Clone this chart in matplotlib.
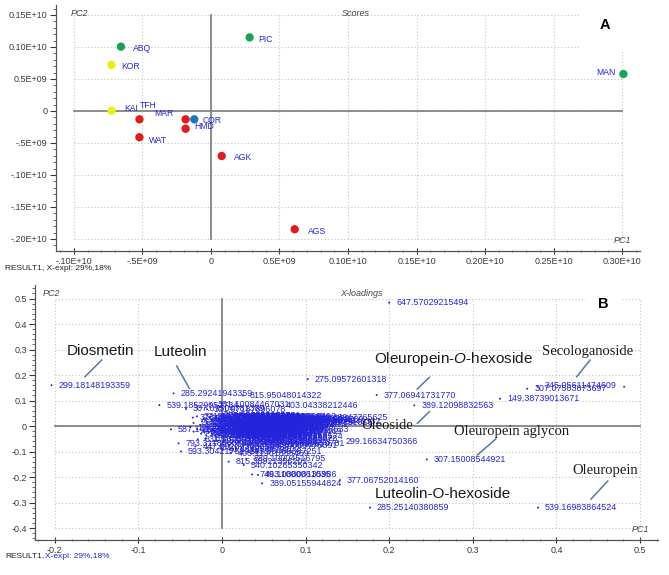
import matplotlib
matplotlib.use("Agg")
import matplotlib.pyplot as plt
from matplotlib.ticker import AutoMinorLocator, FixedLocator

plt.rcParams['font.family'] = ['Liberation Sans', 'DejaVu Sans']
plt.rcParams['mathtext.fontset'] = 'custom'
plt.rcParams['mathtext.rm'] = 'Liberation Sans'
plt.rcParams['mathtext.it'] = 'Liberation Sans:italic'

# ---- panel A : scores ----
sample_names = ["ABQ", "PIC", "KOR", "KAI", "TFH", "MAR", "COR", "HMD", "WAT", "AGK", "AGS", "MAN"]
score_pc1 = [-0.657e9, 0.282e9, -0.726e9, -0.726e9, -0.522e9, -0.185e9, -0.122e9, -0.185e9,
             -0.522e9, 0.078e9, 0.611e9, 3.01e9]
score_pc2 = [1.005e9, 1.15e9, 0.72e9, 0.005e9, -0.13e9, -0.13e9, -0.13e9, -0.277e9,
             -0.41e9, -0.703e9, -1.848e9, 0.578e9]
sample_group = ["green", "green", "yellow", "yellow", "red", "red", "blue", "red",
                "red", "red", "red", "green"]

score_xticks = [-1.0e9, -0.5e9, 0, 0.5e9, 1.0e9, 1.5e9, 2.0e9, 2.5e9, 3.0e9]
score_xlabels = ["-.10E+10", "-.5E+09", "0", "0.5E+09", "0.10E+10", "0.15E+10",
                 "0.20E+10", "0.25E+10", "0.30E+10"]
score_yticks = [-2.0e9, -1.5e9, -1.0e9, -0.5e9, 0, 0.5e9, 1.0e9, 1.5e9]
score_ylabels = ["-.20E+10", "-.15E+10", "-.10E+10", "-.5E+09", "0", "0.5E+09",
                 "0.10E+10", "0.15E+10"]

# ---- panel B : loadings ----
mz_labels = [
    "647.57029215494", "299.18148193359", "285.29241943359", "815.95048014322",
    "539.18529052734", "361.10084467031", "307.07504781389", "301.07187896078",
    "403.04338212446", "275.09572601318", "377.06941731770", "389.12098832563",
    "149.38739013671", "307.07503873697", "345.05611474609", "",
    "688.48947765625", "299.16634750366", "307.15008544921", "377.06752014160",
    "285.25140380859", "539.16983864524", "389.05155944824", "593.30421752929",
    "843.85463387251", "793.31185607910", "815.38921356201", "889.10004516795",
    "540.10265350342", "749.11000061035", "463.08808135986", "587.14132690430",
    "373.11437988281", "831.16259765625", "463.09873962402",
    "371.09768676758", "361.12899780273", "355.10247802734", "343.12002563477",
    "329.06555175781", "325.09478759766", "319.04620361328", "315.07269287109",
    "311.11340332031", "305.06723022461", "303.05102539063", "297.09860229492",
    "293.12414550781", "287.05566406250", "283.09429931641", "277.03530883789",
    "271.06060791016", "301.03498840332", "265.14752197266", "263.12802124023",
    "255.06622314453", "253.09199523926", "247.05943298340", "241.07075500488",
    "239.05598449707", "235.08171081543", "225.07666015625", "223.06060791016",
    "221.08187866211", "215.09136962891", "209.08078002930", "205.07206726074",
    "197.08093261719", "195.06571960449", "193.05001831055", "191.05618286133",
    "187.09700012207", "183.06541442871", "179.03446960449", "175.02453613281",
    "173.04580688477", "169.01414489746", "165.05522155762", "163.03958129883",
    "161.04524230957", "155.03446960449", "153.01907348633", "151.00357055664",
    "145.05000305176", "137.02426147461", "135.04515075684", "133.01419067383",
    "131.07167053223", "129.05520629883", "127.03938293457", "125.02416992188",
    "123.04504394531", "121.02960205078", "119.03495788574", "117.01920318604",
    "115.00386810303", "113.02465820313", "111.00898742676", "623.18096923828",
    "609.14562988281", "577.13507080078", "563.14019775391", "555.15539550781",
    "447.09277343750", "431.09790039063", "417.11856079102", "405.11901855469",
    "481.15078735352", "479.11932373047", "477.10327148438", "473.07476806641",
    "467.12005615234", "465.10284423828", "461.10900878906", "459.09393310547",
    "451.12399291992", "449.10858154297", "445.11401367188", "441.12847900391",
    "437.14260864258", "435.12881469727", "429.08248901367", "425.13369750977",
    "423.10934448242", "421.09362792969", "415.10400390625", "413.08856201172",
    "409.09283447266", "407.13214111328", "401.12225341797", "399.10656738281",
    "395.11181640625", "393.09603881836", "387.11483764648", "385.09945678711",
    "383.11993408203", "381.07971191406", "379.09478759766", "375.12988281250",
    "369.11874389648", "367.10305786133", "365.10537719727", "363.09194946289",
    "359.09744262695", "357.11795043945", "353.08769226074", "351.05670166016",
]
load_pc1 = [
    0.200, -0.204, -0.058, 0.025,
    -0.075, -0.014, -0.043, -0.018,
    0.068, 0.1025, 0.185, 0.230,
    0.3325, 0.365, 0.377, 0.481,
    0.104, 0.139, 0.245, 0.141,
    0.177, 0.378, 0.048, -0.049,
    0.025, -0.052, 0.008, 0.029,
    0.026, 0.036, 0.043, -0.061,
    -0.035, -0.029, -0.034,
    -0.030, -0.022, -0.015, -0.008,
    0.000, 0.006, 0.012, 0.018,
    0.024, 0.030, 0.036, 0.042,
    0.050, 0.058, 0.066, 0.075,
    0.085, 0.095, -0.034, -0.026,
    -0.018, -0.010, -0.003, 0.004,
    0.010, 0.016, 0.022, 0.028,
    0.034, 0.040, 0.047, 0.055,
    0.063, -0.038, -0.030, -0.020,
    -0.012, -0.004, 0.003, 0.009,
    0.015, 0.021, 0.027, 0.033,
    0.040, 0.048, 0.056, -0.025,
    -0.016, -0.008, 0.000, 0.007,
    0.014, 0.020, 0.026, 0.032,
    0.038, 0.044, 0.050, -0.020,
    -0.010, 0.004, 0.012, 0.020,
    0.028, 0.036, 0.044, 0.052,
    -0.032, -0.014, 0.000, 0.010,
    -0.020, -0.012, -0.004, 0.004,
    0.012, 0.020, 0.028, -0.018,
    -0.010, -0.002, 0.006, 0.014,
    0.022, 0.030, -0.016, -0.008,
    0.000, 0.008, 0.016, 0.024,
    0.032, -0.022, -0.014, -0.006,
    0.002, 0.010, 0.018, 0.026,
    -0.024, -0.011, 0.001, 0.013,
    0.025, 0.033, -0.019, 0.005,
    0.017, 0.029, -0.007, 0.021,
]
load_pc2 = [
    0.4835, 0.160, 0.128, 0.120,
    0.082, 0.086, 0.067, 0.066,
    0.081, 0.184, 0.1216, 0.081,
    0.107, 0.146, 0.157, 0.154,
    0.034, -0.0615, -0.131, -0.212,
    -0.320, -0.320, -0.225, -0.100,
    -0.098, -0.068, -0.140, -0.129,
    -0.153, -0.190, -0.192, -0.013,
    0.033, -0.052, -0.022,
    0.038, 0.030, 0.036, 0.028,
    0.040, 0.032, 0.037, 0.026,
    0.034, 0.022, 0.030, 0.036,
    0.025, 0.031, 0.020, 0.027,
    0.014, 0.018, 0.012, 0.004,
    0.016, 0.008, 0.019, 0.002,
    0.014, 0.006, 0.018, 0.000,
    0.010, 0.004, 0.015, 0.007,
    0.012, -0.004, -0.012, -0.002,
    -0.014, -0.006, -0.016, -0.004,
    -0.012, -0.020, -0.008, -0.018,
    -0.010, -0.022, -0.014, -0.030,
    -0.024, -0.034, -0.026, -0.038,
    -0.030, -0.042, -0.032, -0.046,
    -0.036, -0.048, -0.040, -0.050,
    -0.058, -0.055, -0.066, -0.060,
    -0.072, -0.066, -0.078, -0.070,
    -0.080, -0.086, -0.092, -0.106,
    0.024, 0.020, 0.026, 0.022,
    0.028, 0.012, 0.016, 0.010,
    0.000, 0.012, 0.008, -0.002,
    0.004, -0.006, -0.008, -0.020,
    -0.010, -0.024, -0.018, -0.026,
    -0.014, -0.020, 0.034, 0.004,
    0.034, -0.030, 0.030, -0.036,
    0.018, -0.032, -0.038, 0.016,
    0.024, 0.002, -0.036, 0.038,
    -0.040, 0.038, 0.040, -0.008,
]

load_xticks = [-0.2, -0.1, 0, 0.1, 0.2, 0.3, 0.4, 0.5]
load_yticks = [-0.4, -0.3, -0.2, -0.1, 0, 0.1, 0.2, 0.3, 0.4, 0.5]

# compound annotations: text, text position, pointer line, font style
compound_names = ["Diosmetin", "Luteolin", "Oleuropein-$\\it{O}$-hexoside", "Secologanoside",
                  "Oleoside", "Oleuropein aglycon", "Oleuropein", "Luteolin-O-hexoside"]
compound_text_xy = [(-0.1854, 0.2953), (-0.0813, 0.2914), (0.1822, 0.2616), (0.3831, 0.2914),
                    (0.1671, 0.0039), (0.2779, -0.0224), (0.4195, -0.1725), (0.1830, -0.2678)]
compound_serif = [False, False, False, True, True, True, True, False]
pointer_lines = [
    [(-0.1439, 0.2588), (-0.1639, 0.1933)],
    [(-0.0542, 0.2353), (-0.0391, 0.1478)],
    [(0.248, 0.191), (0.2336, 0.1451)],
    [(0.4402, 0.2588), (0.4243, 0.1933)],
    [(0.248, 0.0561), (0.2336, 0.0106)],
    [(0.3274, -0.051), (0.3054, -0.1137)],
    [(0.4614, -0.2157), (0.4414, -0.2863)],
]

group_colors = {"green": "#16a553", "yellow": "#f2ee0c", "red": "#e31b1b", "blue": "#1a78c2"}
label_offsets = {"ABQ": (12, 2), "PIC": (9, 2), "KOR": (10, 2), "KAI": (13, -2),
                 "TFH": (0, -14), "MAR": (-31, -6), "COR": (8, 1), "HMD": (9, -2),
                 "WAT": (10, 3), "AGK": (12, 2), "AGS": (13, 2), "MAN": (-8, -1)}

W, H = 669, 575
LBL_BLUE = "#2424dc"
GRID_C = "#c4c4c4"
ZERO_C = "#858585"
TICK_C = "#3a3a3a"


def draw_frame(ax, xt, yt):
    # dotted grid only inside the tick range, like the original software
    for v in xt:
        ax.plot([v, v], [yt[0], yt[-1]], color=GRID_C, lw=0.8, ls=(0, (1, 2)), zorder=0)
    for v in yt:
        ax.plot([xt[0], xt[-1]], [v, v], color=GRID_C, lw=0.8, ls=(0, (1, 2)), zorder=0)
    ax.plot([xt[0], xt[-1]], [0, 0], color=ZERO_C, lw=1.3, zorder=1)
    ax.plot([0, 0], [yt[0], yt[-1]], color=ZERO_C, lw=1.3, zorder=1)
    for s in ["top", "right"]:
        ax.spines[s].set_visible(False)
    for s in ["left", "bottom"]:
        ax.spines[s].set_color("#555555")
        ax.spines[s].set_linewidth(0.9)
    ax.xaxis.set_minor_locator(AutoMinorLocator(5))
    ax.yaxis.set_minor_locator(AutoMinorLocator(5))
    ax.tick_params(axis="both", which="major", labelsize=6.5, colors=TICK_C, length=4, width=0.8)
    ax.tick_params(axis="both", which="minor", length=2, width=0.6, colors="#555555")
    ax.tick_params(axis="x", which="both", direction="inout", pad=2)
    ax.tick_params(axis="y", which="both", direction="out", pad=2)


fig = plt.figure(figsize=(W / 100, H / 100), dpi=100)

# ---------------- panel A ----------------
axA = fig.add_axes([56 / W, 1 - 251 / H, (640 - 56) / W, (251 - 5) / H])
axA.set_xlim(-1.131e9, 3.131e9)
axA.set_ylim(-2.1875e9, 1.656e9)
draw_frame(axA, score_xticks, score_yticks)
axA.xaxis.set_major_locator(FixedLocator(score_xticks))
axA.yaxis.set_major_locator(FixedLocator(score_yticks))
axA.set_xticklabels(score_xlabels)
axA.set_yticklabels(score_ylabels)

axA.scatter(score_pc1, score_pc2, s=36, c=[group_colors[g] for g in sample_group],
            edgecolors="none", zorder=3)
for name, x, y in zip(sample_names, score_pc1, score_pc2):
    dx, dy = label_offsets[name]
    axA.annotate(name, (x, y), xytext=(dx, -dy), textcoords="offset pixels",
                 fontsize=6.2, color=LBL_BLUE, va="center",
                 ha="right" if name == "MAN" else "left", zorder=4)

axA.text(0.025, 0.985, "PC2", transform=axA.transAxes, fontsize=6.5, style="italic",
         color="#444444", va="top")
axA.text(0.49, 0.985, "Scores", transform=axA.transAxes, fontsize=6.5, style="italic",
         color="#444444", va="top")
axA.text(3.0e9, -2.09e9, "PC1", fontsize=6.5, style="italic", color="#444444",
         ha="center", va="bottom")
axA.text(605 / W, 1 - 25 / H, "A", transform=fig.transFigure, fontsize=10.5, fontweight="bold",
         ha="center", va="center", zorder=5,
         bbox=dict(boxstyle="square,pad=1.4", fc="white", ec="none"))
fig.text(5 / W, 1 - 268 / H, "RESULT1, X-expl: 29%,18%", fontsize=6, color="#222222", va="center")

# ---------------- panel B ----------------
axB = fig.add_axes([35 / W, 1 - 540 / H, (658 - 35) / W, (540 - 285) / H])
axB.set_xlim(-0.2237, 0.5215)
axB.set_ylim(-0.447, 0.553)
draw_frame(axB, load_xticks, load_yticks)
axB.xaxis.set_major_locator(FixedLocator(load_xticks))
axB.yaxis.set_major_locator(FixedLocator(load_yticks))
axB.set_xticklabels([f"{v:g}" for v in load_xticks])
axB.set_yticklabels([f"{v:g}" for v in load_yticks])

axB.scatter(load_pc1, load_pc2, s=2, c=LBL_BLUE, edgecolors="none", zorder=3)
for lbl, x, y in zip(mz_labels, load_pc1, load_pc2):
    if lbl:
        axB.annotate(lbl, (x, y), xytext=(7, 0), textcoords="offset pixels",
                     fontsize=6.4, color=LBL_BLUE, va="center", ha="left", zorder=4)

for seg in pointer_lines:
    axB.plot([seg[0][0], seg[1][0]], [seg[0][1], seg[1][1]], color="#4f7aa6", lw=1.1, zorder=5)
for name, (tx, ty), serif in zip(compound_names, compound_text_xy, compound_serif):
    if serif:
        axB.text(tx, ty, name, fontsize=10.5, family="Liberation Serif", color="#1a1a1a",
                 va="center", ha="left", zorder=6)
    else:
        axB.text(tx, ty, name, fontsize=11, color="#1a1a1a", va="center", ha="left", zorder=6)

axB.text(0.012, 0.985, "PC2", transform=axB.transAxes, fontsize=6.5, style="italic",
         color="#444444", va="top")
axB.text(0.49, 0.985, "X-loadings", transform=axB.transAxes, fontsize=6.5, style="italic",
         color="#444444", va="top")
axB.text(0.5, -0.425, "PC1", fontsize=6.5, style="italic", color="#444444",
         ha="center", va="bottom")
axB.text(603 / W, 1 - 304 / H, "B", transform=fig.transFigure, fontsize=10.5, fontweight="bold",
         ha="center", va="center", zorder=7,
         bbox=dict(boxstyle="square,pad=0.8", fc="white", ec="none"))
fig.text(5 / W, 1 - 556 / H, "RESULT1,", fontsize=6, color="#222222", va="center")
fig.text(45 / W, 1 - 556 / H, "X-expl: 29%,18%", fontsize=6, color=LBL_BLUE, va="center")

fig.savefig("out.png", dpi=100)
